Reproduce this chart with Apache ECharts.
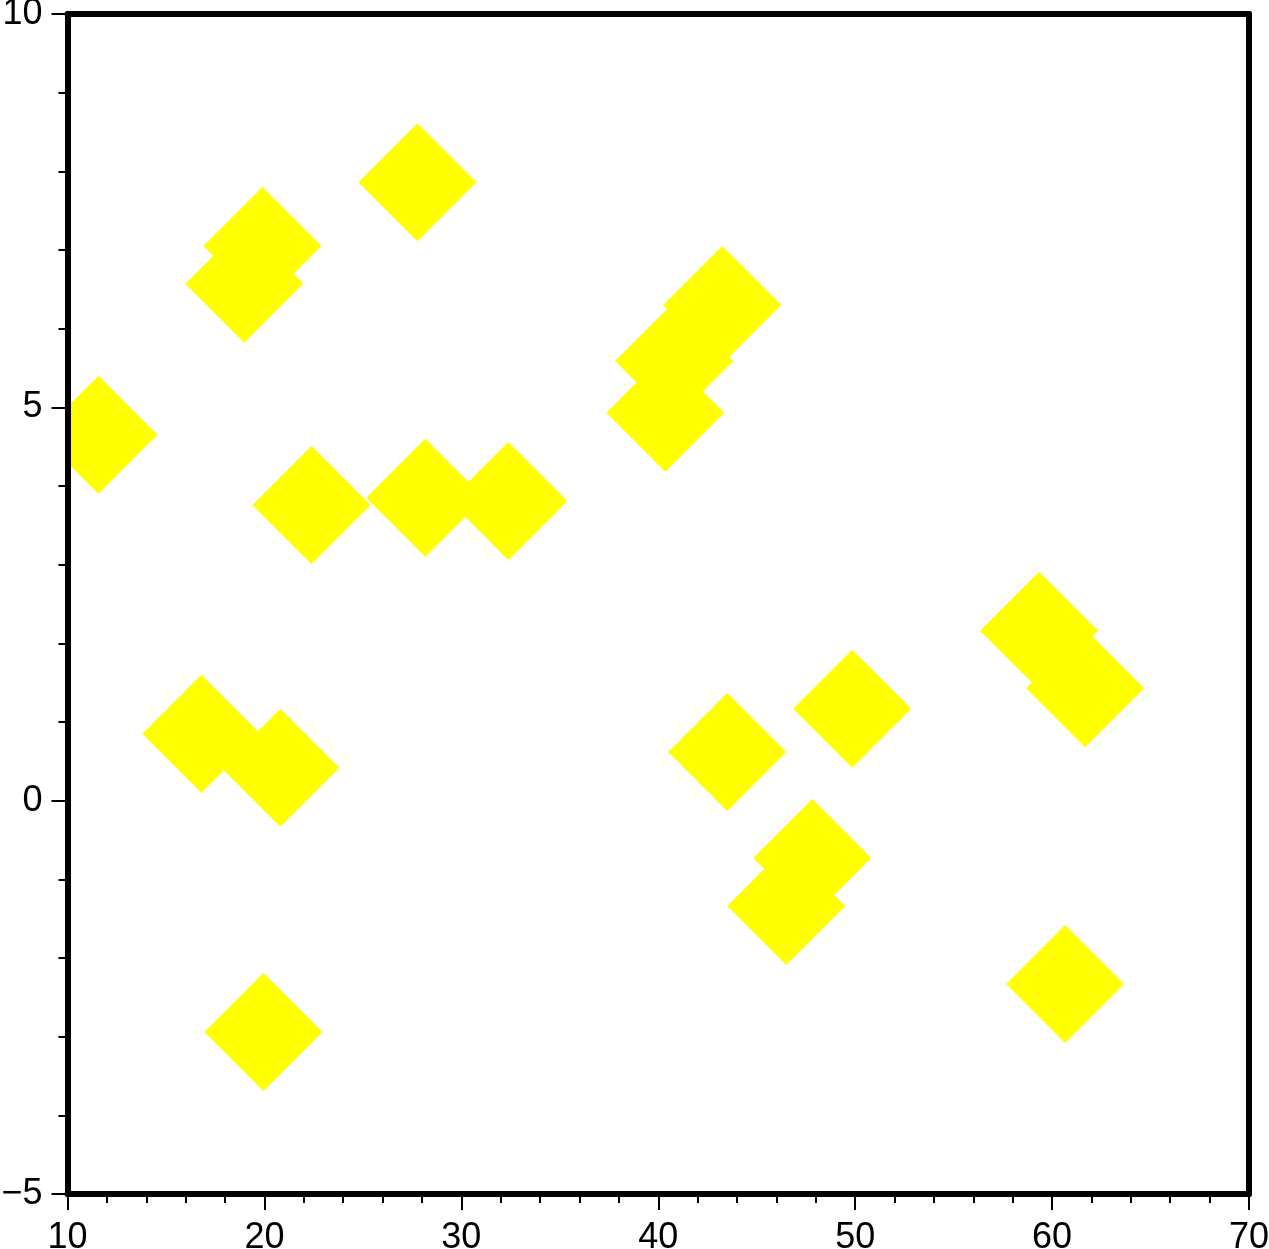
<!DOCTYPE html>
<html>
<head>
<meta charset="utf-8">
<script src="https://cdn.jsdelivr.net/npm/echarts@6/dist/echarts.min.js"></script>
<style>
html,body{margin:0;padding:0;background:#fff;}
#chart{width:1269px;height:1249px;}
</style>
</head>
<body>
<div id="chart"></div>
<script>
const xValues = [11.57, 19.95, 27.77, 19.90, 18.98, 22.39, 28.17, 32.39, 16.80, 20.81, 40.36, 40.81, 43.25, 43.50, 49.85, 47.82, 46.50, 59.34, 61.68, 60.66];
const yValues = [4.65, -2.94, 7.86, 7.05, 6.57, 3.76, 3.85, 3.81, 0.85, 0.42, 4.93, 5.59, 6.30, 0.62, 1.17, -0.73, -1.34, 2.16, 1.43, -2.33];
const xTicks = [10, 20, 30, 40, 50, 60, 70];
const yTicks = [-5, 0, 5, 10];

const points = xValues.map((x, i) => [x, yValues[i]]);
const FONT = 'Liberation Sans';
const HALF = 59;

const chart = echarts.init(document.getElementById('chart'), null, {renderer: 'canvas'});
const fmt = v => String(v).replace('-', '\u2212');

const labelStyle = {color: '#000', fontFamily: FONT, fontSize: 36};

chart.setOption({
  animation: false,
  backgroundColor: '#fff',
  grid: {left: 67.5, right: 20, top: 14, bottom: 55, containLabel: false, outerBoundsMode: 'none'},
  xAxis: [
    {
      type: 'value', position: 'bottom', min: xTicks[0], max: xTicks[xTicks.length - 1], interval: 10, z: 10,
      axisLine: {show: true, onZero: false, lineStyle: {color: '#000', width: 6}},
      axisTick: {show: true, inside: false, length: 16, lineStyle: {color: '#000', width: 2}},
      minorTick: {show: true, splitNumber: 5, length: 9, lineStyle: {color: '#000', width: 2}},
      axisLabel: Object.assign({margin: 26, formatter: fmt, showMinLabel: true, showMaxLabel: true, hideOverlap: false}, labelStyle),
      splitLine: {show: false}
    },
    {
      type: 'value', position: 'top', min: 10, max: 70, z: 10,
      axisLine: {show: true, onZero: false, lineStyle: {color: '#000', width: 6}},
      axisTick: {show: false}, axisLabel: {show: false}, splitLine: {show: false}
    }
  ],
  yAxis: [
    {
      type: 'value', position: 'left', min: yTicks[0], max: yTicks[yTicks.length - 1], interval: 5, z: 10,
      axisLine: {show: true, onZero: false, lineStyle: {color: '#000', width: 6}},
      axisTick: {show: true, inside: false, length: 16, lineStyle: {color: '#000', width: 2}},
      minorTick: {show: true, splitNumber: 5, length: 9, lineStyle: {color: '#000', width: 2}},
      axisLabel: Object.assign({margin: 25, formatter: fmt, showMinLabel: true, showMaxLabel: true, hideOverlap: false}, labelStyle),
      splitLine: {show: false}
    },
    {
      type: 'value', position: 'right', min: -5, max: 10, z: 10,
      axisLine: {show: true, onZero: false, lineStyle: {color: '#000', width: 6}},
      axisTick: {show: false}, axisLabel: {show: false}, splitLine: {show: false}
    }
  ],
  series: [{
    type: 'custom',
    xAxisIndex: 0, yAxisIndex: 0,
    clip: true,
    z: 2,
    data: points,
    renderItem: function (params, api) {
      const c = api.coord([api.value(0), api.value(1)]);
      return {
        type: 'polygon',
        shape: {points: [[c[0], c[1] - HALF], [c[0] + HALF, c[1]], [c[0], c[1] + HALF], [c[0] - HALF, c[1]]]},
        style: {fill: '#ffff00', stroke: null}
      };
    }
  }]
});
</script>
</body>
</html>
